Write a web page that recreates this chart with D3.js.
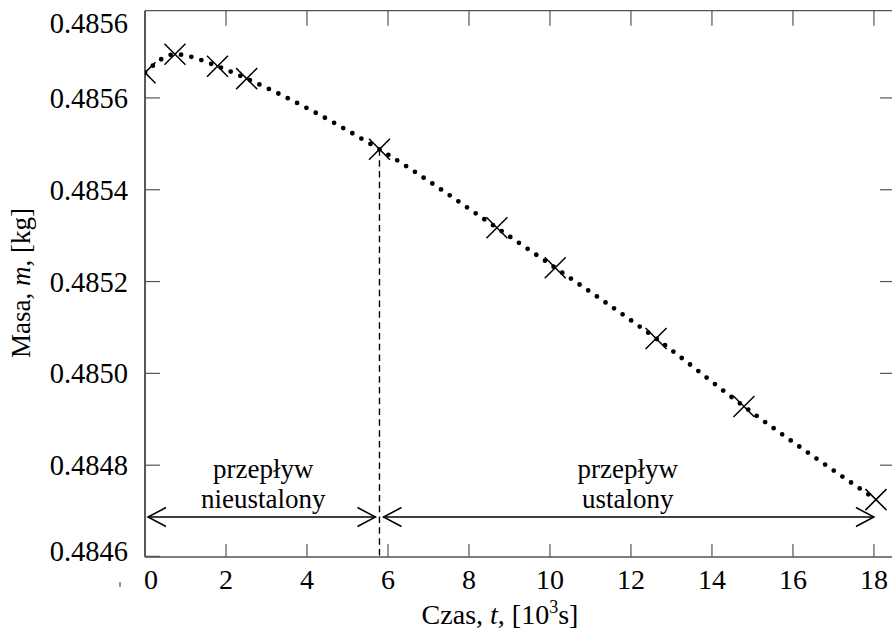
<!DOCTYPE html>
<html><head><meta charset="utf-8">
<script src="https://cdn.jsdelivr.net/npm/d3@7"></script>
<style>body{margin:0;background:#fff}svg{display:block}text{font-family:"Liberation Serif","Times New Roman",serif;fill:#000}</style>
</head><body><svg id="c" width="892" height="633"></svg>
<script>
// data
const timeK = [0, 0.74, 1.79, 2.51, 5.79, 8.69, 10.13, 12.62, 14.79, 18.05];
const mass  = [0.485655, 0.485695, 0.485669, 0.485642, 0.485488, 0.485317, 0.485230, 0.485076, 0.484928, 0.484725];
const xTicks = [0, 2, 4, 6, 8, 10, 12, 14, 16, 18];
const yTicks = [0.4858, 0.4856, 0.4854, 0.4852, 0.4850, 0.4848, 0.4846];
const yTickLabels = ["0.4856", "0.4856", "0.4854", "0.4852", "0.4850", "0.4848", "0.4846"];
const transitionT = 5.79;
const regionLabels = [["przepływ", "nieustalony"], ["przepływ", "ustalony"]];

const svg = d3.select("#c");
const L = 145, R = 895, T = 10.7, B = 557;
const x = d3.scaleLinear().domain([0, 18.52]).range([L, R]);
const y = d3.scaleLinear().domain([0.4846, 0.48579]).range([B, T]);

svg.append("defs").append("clipPath").attr("id", "pc")
  .append("rect").attr("x", L).attr("y", T).attr("width", R - L).attr("height", B - T);

const frameCol = "#555";
// frame
svg.append("line").attr("x1", L).attr("x2", R).attr("y1", T).attr("y2", T).attr("stroke", frameCol).attr("stroke-width", 1.3);
svg.append("line").attr("x1", L).attr("x2", R).attr("y1", B).attr("y2", B).attr("stroke", frameCol).attr("stroke-width", 1.3);
svg.append("line").attr("x1", L).attr("x2", L).attr("y1", T).attr("y2", B).attr("stroke", "#000").attr("stroke-width", 1.3);
svg.append("line").attr("x1", R).attr("x2", R).attr("y1", T).attr("y2", B).attr("stroke", "#000").attr("stroke-width", 1.3);

// x ticks (bottom & top, inward)
const xt = svg.append("g");
xTicks.filter(d => d > 0).forEach(d => {
  xt.append("line").attr("x1", x(d)).attr("x2", x(d)).attr("y1", B).attr("y2", B - 13).attr("stroke", frameCol).attr("stroke-width", 1.2);
  xt.append("line").attr("x1", x(d)).attr("x2", x(d)).attr("y1", T).attr("y2", T + 15).attr("stroke", frameCol).attr("stroke-width", 1.2);
});
xTicks.forEach(d => {
  xt.append("text").attr("x", d === 0 ? x(d) + 6 : x(d)).attr("y", 589).attr("text-anchor", "middle")
    .attr("font-size", 28).text(d);
});

// y ticks (left & right, inward)
const yt = svg.append("g");
yTicks.forEach((d, i) => {
  if (i > 0 && i < yTicks.length - 1) {
    yt.append("line").attr("x1", L).attr("x2", L + 15).attr("y1", y(d)).attr("y2", y(d)).attr("stroke", frameCol).attr("stroke-width", 1.2);
    yt.append("line").attr("x1", R).attr("x2", R - 15).attr("y1", y(d)).attr("y2", y(d)).attr("stroke", frameCol).attr("stroke-width", 1.2);
  }
  let by = y(d) + 10;
  if (i === 0) by = 33;
  if (i === yTicks.length - 1) by = y(d) + 4;
  yt.append("text").attr("x", 128).attr("y", by).attr("text-anchor", "end").attr("font-size", 28.5).text(yTickLabels[i]);
});
yt.append("line").attr("x1", L).attr("x2", L + 15).attr("y1", B - 0.5).attr("y2", B - 0.5).attr("stroke", frameCol).attr("stroke-width", 1.5);
svg.append("line").attr("x1", 120).attr("x2", 120).attr("y1", 582).attr("y2", 587).attr("stroke", "#333").attr("stroke-width", 1);

const plot = svg.append("g").attr("clip-path", "url(#pc)");
const pts = timeK.map((t, i) => [t, mass[i]]);

// dotted fit line
plot.append("path").datum(pts)
  .attr("d", d3.line().x(d => x(d[0])).y(d => y(d[1])).curve(d3.curveMonotoneX))
  .attr("fill", "none").attr("stroke", "#000").attr("stroke-width", 4.8)
  .attr("stroke-linecap", "round").attr("stroke-dasharray", "0 10.5");

// crosses
const s = 10.5;
plot.selectAll("path.cr").data(pts).join("path").attr("class", "cr")
  .attr("d", d => { const cx = x(d[0]), cy = y(d[1]);
    return `M${cx - s},${cy - s}L${cx + s},${cy + s}M${cx - s},${cy + s}L${cx + s},${cy - s}`; })
  .attr("stroke", "#000").attr("stroke-width", 1.5).attr("fill", "none");

// vertical dashed line at transition
const ti = timeK.indexOf(transitionT);
svg.append("line").attr("x1", x(transitionT)).attr("x2", x(transitionT))
  .attr("y1", y(mass[ti])).attr("y2", B)
  .attr("stroke", "#000").attr("stroke-width", 1.4).attr("stroke-dasharray", "6.5 4.3");

// double arrows
const ay = 517;
function arrow(x1, x2) {
  const g = svg.append("g").attr("stroke", "#000").attr("stroke-width", 1.5).attr("fill", "none");
  g.append("line").attr("x1", x1).attr("x2", x2).attr("y1", ay).attr("y2", ay);
  g.append("path").attr("d", `M${x1 + 18},${ay - 9.5}L${x1},${ay}L${x1 + 18},${ay + 9.5}`);
  g.append("path").attr("d", `M${x2 - 18},${ay - 9.5}L${x2},${ay}L${x2 - 18},${ay + 9.5}`);
}
arrow(x(0) + 3, x(transitionT) - 4);
arrow(x(transitionT) + 4, x(timeK[timeK.length - 1]) - 2);

// region labels
const centers = [(x(0) + x(transitionT)) / 2 + 1, (x(transitionT) + x(timeK[timeK.length - 1])) / 2];
regionLabels.forEach((lines, i) => {
  lines.forEach((t, j) => {
    svg.append("text").attr("x", centers[i]).attr("y", 478 + j * 30).attr("text-anchor", "middle")
      .attr("font-size", 27).text(t);
  });
});

// axis titles
const xl = svg.append("text").attr("x", 500).attr("y", 624).attr("text-anchor", "middle").attr("font-size", 28);
xl.append("tspan").text("Czas, ");
xl.append("tspan").attr("font-style", "italic").text("t");
xl.append("tspan").text(", [10");
xl.append("tspan").attr("font-size", 18).attr("dy", -11).text("3");
xl.append("tspan").attr("dy", 11).text("s]");

const yl = svg.append("text").attr("transform", "translate(30,283) rotate(-90)").attr("text-anchor", "middle").attr("font-size", 27);
yl.append("tspan").text("Masa, ");
yl.append("tspan").attr("font-style", "italic").text("m");
yl.append("tspan").text(", [kg]");
</script></body></html>
